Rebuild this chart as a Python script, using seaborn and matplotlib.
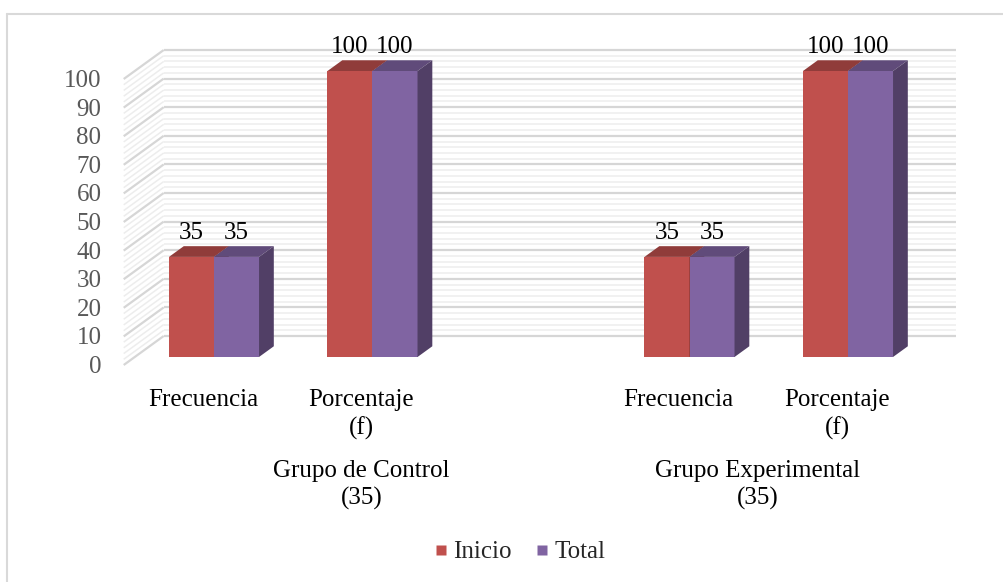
import matplotlib
matplotlib.use("Agg")
import matplotlib.pyplot as plt
import numpy as np
import pandas as pd
import seaborn as sns
from matplotlib.collections import LineCollection
from matplotlib.lines import Line2D
from matplotlib.patches import Polygon

# --- data -------------------------------------------------------------
grupos = [["Grupo de Control", "(35)"], ["Grupo Experimental", "(35)"]]
categorias = [["Frecuencia"], ["Porcentaje", "(f)"]]
series = ["Inicio", "Total"]
inicio = [35, 100, 35, 100]
total = [35, 100, 35, 100]
colores = ["#C0504D", "#8064A2"]

# slots on the category axis (Excel leaves a blank slot between groups)
claves = ["C|Frecuencia", "C|Porcentaje", "gap", "E|Frecuencia", "E|Porcentaje"]
claves_datos = [k for k in claves if k != "gap"]

df = pd.DataFrame({
    "clave": claves_datos * 2,
    "serie": [series[0]] * 4 + [series[1]] * 4,
    "valor": inicio + total,
})

# --- geometry (pixels of the 1004x582 canvas) -------------------------
W, H = 1004, 582
PX_X = 158.5          # px per category slot
PX_Y = 2.86           # px per value unit
X0_PX = 214.0         # centre of slot 0 on the bar plane
Y0_PX = 357.0         # value 0 on the bar plane
# 3d depth vector (front edge -> back wall) in px, and where the bars sit
DEPTH_PX = np.array([40.0, -29.0])
D = np.array([DEPTH_PX[0] / PX_X, -DEPTH_PX[1] / PX_Y])
FRONT = -0.276 * D
BACK = 0.724 * D
BAR_D = 0.37 * D

sns.set_theme(style="white")
plt.rcParams["font.family"] = ["Liberation Serif", "DejaVu Serif"]
FS = 18

fig = plt.figure(figsize=(W / 100, H / 100), dpi=100)
left = (X0_PX - 0.5 * PX_X) / W
right = (X0_PX + 4.5 * PX_X) / W
bottom = 1 - Y0_PX / H
top = 1 - (Y0_PX - 100 * PX_Y) / H
ax = fig.add_axes([left, bottom, right - left, top - bottom])

sns.barplot(data=df, x="clave", y="valor", hue="serie", order=claves,
            hue_order=series, palette=colores, width=0.568, saturation=1,
            legend=False, ax=ax, linewidth=0)

ax.set_xlim(-0.5, 4.5)
ax.set_ylim(0, 100)
ax.set_xticks([])
ax.set_yticks([])
ax.set_xlabel("")
ax.set_ylabel("")
for s in ax.spines.values():
    s.set_visible(False)
ax.patch.set_visible(False)

# --- walls: side + back gridlines --------------------------------------
mayores, menores = [], []
for v in range(0, 101, 2):
    p_front = (-0.5 + FRONT[0], v + FRONT[1])
    p_back = (-0.5 + BACK[0], v + BACK[1])
    p_end = (4.5 + BACK[0], v + BACK[1])
    seg = [[p_front, p_back], [p_back, p_end]]
    (mayores if v % 10 == 0 else menores).extend(seg)
ax.add_collection(LineCollection(menores, colors="#ededed", linewidths=1.1,
                                 zorder=0.5, clip_on=False))
ax.add_collection(LineCollection(mayores, colors="#d6d6d6", linewidths=1.6,
                                 zorder=0.6, clip_on=False))

# --- 3d faces on the seaborn bars --------------------------------------
def sombra(c, f):
    r, g, b = matplotlib.colors.to_rgb(c)
    return (r * f, g * f, b * f)

for i, cont in enumerate(ax.containers):
    for rect in cont:
        h = rect.get_height()
        if not np.isfinite(h):
            continue
        x0, w = rect.get_x(), rect.get_width()
        y1 = rect.get_y() + h
        y0 = rect.get_y()
        c = rect.get_facecolor()
        rect.set_zorder(2 + i)
        rect.set_clip_on(False)
        dx, dy = BAR_D
        top_face = Polygon([(x0, y1), (x0 + w, y1), (x0 + w + dx, y1 + dy),
                            (x0 + dx, y1 + dy)], closed=True,
                           facecolor=sombra(c, 0.75), edgecolor="none",
                           zorder=2 + i, clip_on=False)
        side_face = Polygon([(x0 + w, y0), (x0 + w + dx, y0 + dy),
                             (x0 + w + dx, y1 + dy), (x0 + w, y1)], closed=True,
                            facecolor=sombra(c, 0.63), edgecolor="none",
                            zorder=2 + i, clip_on=False)
        ax.add_patch(top_face)
        ax.add_patch(side_face)
        ax.annotate(f"{h:.0f}", (x0 + w / 2, y1), xytext=(0, 17.5),
                    textcoords="offset points", ha="center", va="center",
                    fontsize=FS, color="#000000", zorder=6,
                    annotation_clip=False)

# --- value axis labels on the front edge -------------------------------
for v in range(0, 101, 10):
    ax.annotate(str(v), (-0.5 + FRONT[0], v + FRONT[1]), xytext=(-16, -1.5),
                textcoords="offset points", ha="right", va="center",
                fontsize=FS, color="#595959", annotation_clip=False)

# --- category labels (two levels) ---------------------------------------
def y_px(px):
    return (Y0_PX - px) / PX_Y

def lineas(x, textos, bases):
    for t, b in zip(textos, bases):
        ax.text(x, y_px(b), t, ha="center", va="baseline", fontsize=FS,
                color="#000000", clip_on=False)

for k, clave in enumerate(claves):
    if clave == "gap":
        continue
    nombre = categorias[0] if clave.endswith("Frecuencia") else categorias[1]
    lineas(k + FRONT[0], nombre, [406, 435])

for g, grupo in enumerate(grupos):
    xc = (1.0 if g == 0 else 3.5) + FRONT[0]
    lineas(xc, grupo, [477, 505])

# --- legend --------------------------------------------------------------
handles = [Line2D([], [], marker="s", linestyle="none", markersize=7.5,
                  markerfacecolor=c, markeredgecolor="none") for c in colores]
fig.legend(handles, series, loc="center", ncol=2, frameon=False,
           bbox_to_anchor=(518 / W, 1 - 552 / H), fontsize=FS,
           handletextpad=0.1, columnspacing=0.8, handlelength=0.8)

# --- chart area border (left + top edges visible) -----------------------
fig.add_artist(Line2D([7 / W, 7 / W], [0, 1 - 14 / H], color="#d9d9d9", lw=1.5))
fig.add_artist(Line2D([7 / W, 1], [1 - 14 / H, 1 - 14 / H], color="#d9d9d9", lw=1.5))

fig.savefig("out.png", dpi=100)
